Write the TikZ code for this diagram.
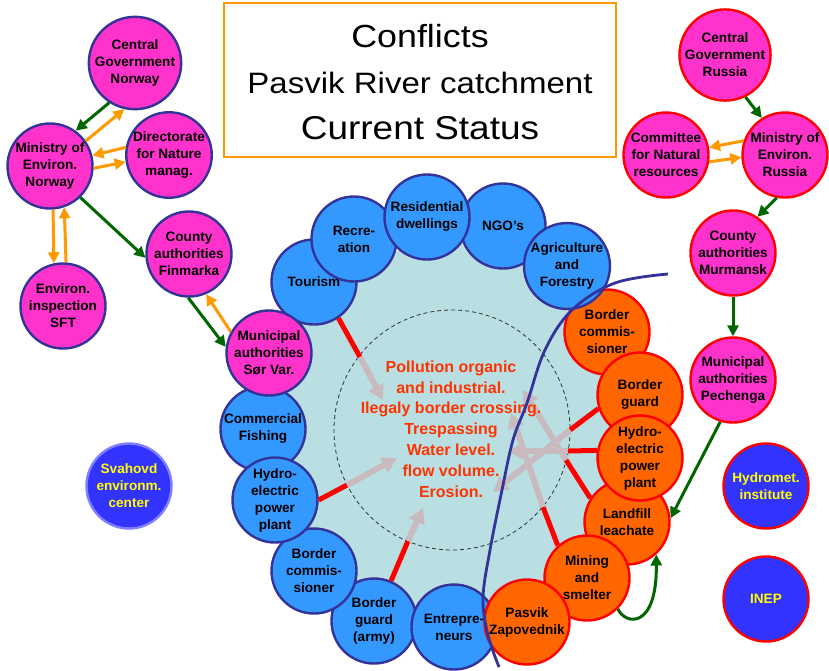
\documentclass[tikz,border=0pt]{standalone}
\usepackage{fontspec}
\setmainfont{Liberation Sans}
\newfontfamily\titlefont[FakeStretch=1.12]{Liberation Sans}
\usetikzlibrary{arrows.meta}
\definecolor{ringblue}{HTML}{3399FF}
\definecolor{navyline}{HTML}{333399}
\definecolor{magentafill}{HTML}{FF33CC}
\definecolor{orangefill}{HTML}{FF6600}
\definecolor{redline}{HTML}{FF0000}
\definecolor{arrgreen}{HTML}{006600}
\definecolor{arrorange}{HTML}{FF9900}
\definecolor{lightbg}{HTML}{B9DFE3}
\definecolor{greyarr}{HTML}{C8BABE}
\definecolor{issuetext}{HTML}{FF3300}
\definecolor{instfill}{HTML}{3333FF}
\definecolor{instborder}{HTML}{7F7FFF}
\definecolor{yellowtext}{HTML}{FFFF00}
\tikzset{
  ent/.style={circle, minimum size=85pt, inner sep=0pt, line width=2.4pt, align=center,
    font=\bfseries\fontsize{13.6}{17}\selectfont},
  blueent/.style={ent, fill=ringblue, draw=navyline},
  magno/.style={ent, fill=magentafill, draw=navyline},
  magru/.style={ent, fill=magentafill, draw=redline},
  orent/.style={ent, fill=orangefill, draw=redline},
  inst/.style={ent, fill=instfill, draw=redline, text=yellowtext},
  garrow/.style={draw=arrgreen, line width=3pt, -{Triangle[length=11pt,width=11pt]}},
  oarrow/.style={draw=arrorange, line width=3pt, -{Triangle[length=11pt,width=11pt]}},
  redseg/.style={draw=redline, line width=5pt},
  greyseg/.style={draw=greyarr, line width=6pt, -{Triangle[length=15pt,width=16pt]}},
  river/.style={draw=navyline, line width=2.8pt},
  titletext/.style={font=\titlefont, anchor=base, inner sep=0pt}
}
\begin{document}
\begin{tikzpicture}[x=1pt,y=-1pt]
\useasboundingbox (0,0) rectangle (829,670);
\fill[white] (0,0) rectangle (829,670);

% title box
\draw[arrorange, line width=2pt] (224,3) rectangle (616,157);
\node[titletext, font=\titlefont\fontsize{32}{36}\selectfont] (ttl1) at (420,47) {Conflicts};
\node[titletext, font=\titlefont\fontsize{29.5}{34}\selectfont] (ttl2) at (420,93) {Pasvik River catchment};
\node[titletext, font=\titlefont\fontsize{33}{38}\selectfont] (ttl3) at (420,139) {Current Status};

% catchment background and dashed circle
\fill[lightbg] (452,428) circle[radius=185];
\draw[black!80, line width=0.8pt, dash pattern=on 4pt off 3pt] (452,430) ellipse[x radius=118, y radius=120];

% ring nodes
\node[blueent] (tour) at (314,282) {Tourism};
\node[blueent] (recr) at (354,239) {Recre-\\ation};
\node[blueent] (ngo) at (503,226) {NGO’s};
\node[blueent] (resi) at (427,217) {Residential\\dwellings};
\node[orent] (bco) at (607,332) {Border\\commis-\\sioner};
\node[blueent] (agri) at (567,266) {Agriculture\\and\\Forestry};
\node[orent] (lf) at (627,522) {Landfill\\leachate};
\node[orent] (bgo) at (640,395) {Border\\guard};
\node[orent] (hydo) at (640,458) {Hydro-\\electric\\power\\plant};
\node[orent] (mine) at (587,578) {Mining\\and\\smelter};
\node[blueent] (bga) at (374,621) {Border\\guard\\(army)};
\node[blueent] (entr) at (454,627) {Entrepre-\\neurs};
\node[orent] (pasv) at (527,622) {Pasvik\\Zapovednik};
\node[blueent] (bcb) at (314,571) {Border\\commis-\\sioner};
\node[blueent] (comf) at (263,429) {Commercial\\Fishing};
\node[blueent] (hydb) at (275,500) {Hydro-\\electric\\power\\plant};
\node[magno] (msv) at (269,353) {Municipal\\authorities\\Sør Var.};

% Norway
\node[magno] (cgn) at (135,63) {Central\\Government\\Norway};
\node[magno] (mn) at (50,166) {Ministry of\\Environ.\\Norway};
\node[magno] (dir) at (169,155) {Directorate\\for Nature\\manag.};
\node[magno] (sft) at (63,306) {Environ.\\inspection\\SFT};
\node[magno] (fin) at (189,254) {County\\authorities\\Finmarka};

% Russia
\node[magru] (cgr) at (725,55) {Central\\Government\\Russia};
\node[magru] (com) at (666,155) {Committee\\for Natural\\resources};
\node[magru] (mr) at (785,155) {Ministry of\\Environ.\\Russia};
\node[magru] (mur) at (733,253) {County\\authorities\\Murmansk};
\node[magru] (pech) at (733,380) {Municipal\\authorities\\Pechenga};

% institutions
\node[inst, draw=instborder] (sva) at (129,486) {Svahovd\\environm.\\center};
\node[inst] (hyd) at (766,486) {Hydromet.\\institute};
\node[inst] (inep) at (766,599) {INEP};

% impact lines: red to the dashed circle, grey arrow inside
\coordinate (c1) at (360,357); \coordinate (t1) at (383,400);
\coordinate (c2) at (347,485); \coordinate (t2) at (397,458);
\coordinate (c3) at (408,541); \coordinate (t3) at (423,508);
\coordinate (c4) at (570,430); \coordinate (t4) at (493,492);
\coordinate (c5) at (568,451); \coordinate (t5) at (508,451);
\coordinate (c6) at (566,460); \coordinate (t6) at (523,390);
\coordinate (c7) at (543,507); \coordinate (t7) at (511,413);

\draw[redseg] (tour.304) -- (c1);
\draw[redseg] (hydb.0) -- (c2);
\draw[redseg] (bga) -- (c3);
\draw[redseg] (bgo.198) -- (c4);
\draw[redseg] (hydo.170) -- (c5);
\draw[redseg] (lf.147) -- (c6);
\draw[redseg] (mine.132) -- (c7);

\draw[greyseg] (c1) -- (t1);
\draw[greyseg] (c2) -- (t2);
\draw[greyseg] (c3) -- (t3);
\draw[greyseg] (c4) -- (t4);
\draw[greyseg] (c5) -- (t5);
\draw[greyseg] (c6) -- (t6);
\draw[greyseg] (c7) -- (t7);

% central issues text
\node[align=center, inner sep=0pt, text=issuetext, font=\bfseries\fontsize{16}{20.8}\selectfont] (issues) at (451,429)
  {Pollution organic\\and industrial.\\Ilegaly border crossing.\\Trespassing\\Water level.\\flow volume.\\Erosion.};

% river / border line
\draw[river] plot[smooth, tension=0.6] coordinates {(668,274) (615,283) (572,310) (545,350) (527,403) (513,440) (502,490) (490,550) (483,598) (488,635) (499,667)};

% Norway arrows
\draw[garrow] (cgn.237) -- (mn.54);
\draw[oarrow] (mn.35) -- (cgn.257);
\draw[oarrow] (dir.170) -- (mn.14);
\draw[oarrow] (mn.357) -- (dir.189);
\draw[oarrow] (mn.274) -- (sft.102);
\draw[oarrow] (sft.86) -- (mn.289);
\draw[garrow] (mn.314) -- (fin.185);
\draw[garrow] (fin.269) -- (msv.172);
\draw[oarrow] (msv.151) -- (fin.293);

% Russia arrows
\draw[garrow] (cgr.296) -- (mr.122);
\draw[oarrow] (mr.161) -- (com.10);
\draw[oarrow] (com.351) -- (mr.183);
\draw[garrow] (mr.259) -- (mur.56);
\draw[garrow] (mur.270) -- (pech.90);
\draw[garrow] (pech.253) -- (lf.5);
\draw[garrow] (mine.315) .. controls (625,625) and (657,630) .. (lf.312);
\end{tikzpicture}
\end{document}
